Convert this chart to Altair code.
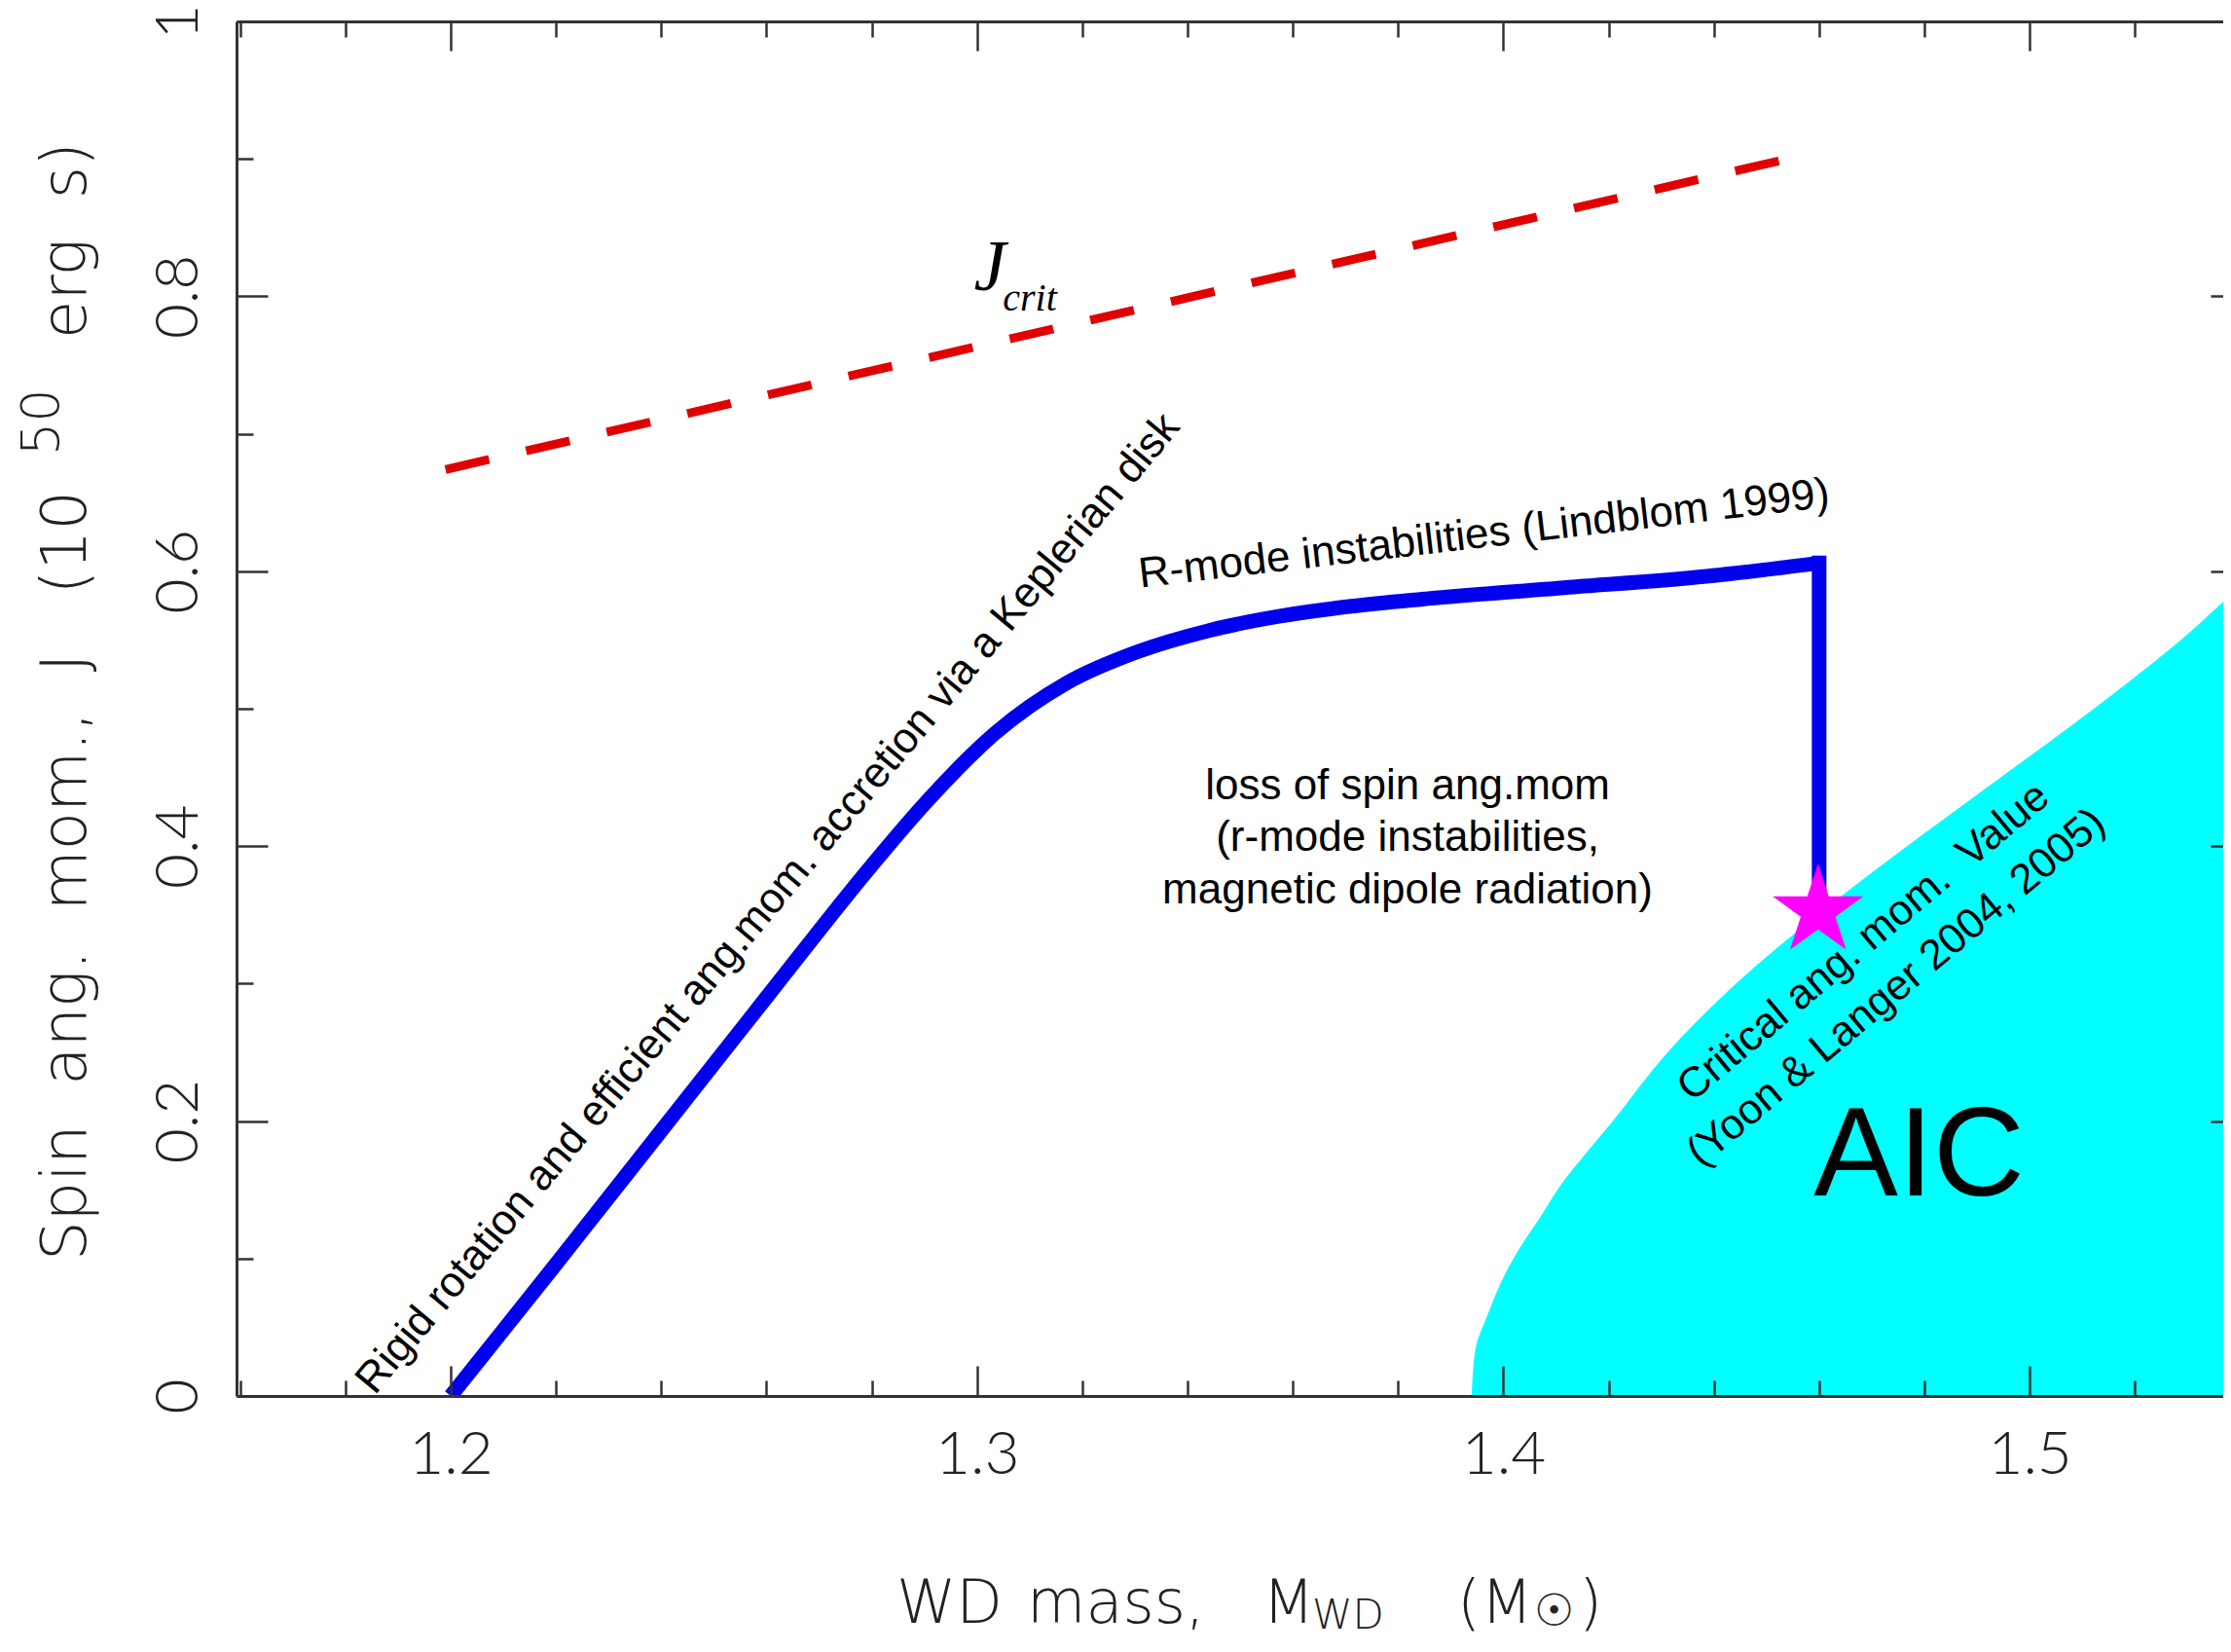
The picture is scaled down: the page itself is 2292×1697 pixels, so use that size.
import altair as alt
import pandas as pd

# ---------------- data ----------------
# blue evolutionary track: WD mass (Msun) and spin angular momentum (1e50 erg s)
track_mass = [1.200, 1.220, 1.240, 1.260, 1.280, 1.2900, 1.3035, 1.3170, 1.3305, 1.3441,
              1.3576, 1.3711, 1.3846, 1.4116, 1.4386, 1.4600]
track_J = [0.000, 0.096, 0.193, 0.290, 0.386, 0.4306, 0.4824, 0.5186, 0.5414, 0.5569,
           0.5673, 0.5745, 0.5797, 0.5880, 0.5963, 0.6060]
# vertical drop of the track down to the star
drop_mass = [1.4600, 1.4600]
drop_J = [0.6060, 0.3500]

# red dashed J_crit line
jcrit_mass = [1.199, 1.454]
jcrit_J = [0.674, 0.900]

# boundary of the cyan AIC region
aic_J = [0.000, 0.036, 0.059, 0.083, 0.107, 0.130, 0.154, 0.178, 0.201,
         0.250, 0.300, 0.350, 0.400, 0.450, 0.500, 0.550, 0.583, 0.620]
aic_mass = [1.3940, 1.3948, 1.3970, 1.3996, 1.4030, 1.4070, 1.4110, 1.4160, 1.4210,
            1.4312, 1.4442, 1.4597, 1.4767, 1.4945, 1.5122, 1.5287, 1.5383, 1.5490]

# magenta star
star_mass = [1.4598]
star_J = [0.3527]

# tick values
x_major = [1.2, 1.3, 1.4, 1.5]
x_minor = [1.16, 1.18, 1.22, 1.24, 1.26, 1.28, 1.32, 1.34, 1.36, 1.38,
           1.42, 1.44, 1.46, 1.48, 1.52]
y_major = [0.0, 0.2, 0.4, 0.6, 0.8, 1.0]
y_minor = [0.1, 0.3, 0.5, 0.7, 0.9]

# ---------------- layout ----------------
W, H = 2041, 1412
X_DOMAIN = [1.1593, 1.53678]
xsc = alt.Scale(domain=X_DOMAIN, nice=False, zero=False)
ysc = alt.Scale(domain=[0, 1], nice=False, zero=False)

TICK = "#333333"
AX_FONT = "Lato"
TITLE_FONT = "DejaVu Sans"
SANS = "Liberation Sans"
SERIF = "Liberation Serif"
NB = "\u00a0"
STAR = ("M0,-1L0.2245,-0.309L0.9511,-0.309L0.3633,0.118L0.5878,0.809L0,0.382"
        "L-0.5878,0.809L-0.3633,0.118L-0.9511,-0.309L-0.2245,-0.309Z")


def ax(orient, values, size, offset=None, labels=False, **kw):
    return alt.Axis(orient=orient, values=values, tickSize=size,
                    offset=-size if offset is None else offset,
                    labels=labels, domain=False, grid=False, tickColor=TICK,
                    tickWidth=2.5, zindex=1, title=None, **kw)


def frame(orient):
    return alt.Axis(orient=orient, ticks=False, labels=False, domain=True, grid=False,
                    domainColor=TICK, domainWidth=3, zindex=1, title=None, offset=0)


lab_x = dict(format=".1f", labelFont=AX_FONT, labelFontSize=62, labelFontWeight=300,
             labelColor="#222222", labelPadding=30, labelFlush=False, labelOverlap=False)
lab_y = dict(format="~g", labelFont=AX_FONT, labelFontSize=62, labelFontWeight=300,
             labelColor="#222222", labelPadding=28, labelFlush=False, labelOverlap=False,
             labelAngle=270, labelAlign="center", labelBaseline="bottom")

aic_df = pd.DataFrame({"M": aic_mass, "J": aic_J})
track_df = pd.DataFrame({"M": track_mass, "J": track_J})
drop_df = pd.DataFrame({"M": drop_mass, "J": drop_J})
jcrit_df = pd.DataFrame({"M": jcrit_mass, "J": jcrit_J})
star_df = pd.DataFrame({"M": star_mass, "J": star_J})

area = alt.Chart(aic_df).mark_area(
    orient="horizontal", color="#00ffff", interpolate="catmull-rom", clip=True, opacity=1
).encode(
    y=alt.Y("J:Q", scale=ysc, axis=ax("left", y_major, 32, labels=True, **lab_y)),
    x=alt.X("M:Q", scale=xsc, axis=ax("bottom", x_major, 31, labels=True, **lab_x)),
    x2=alt.datum(1.6),
)

jcrit = alt.Chart(jcrit_df).mark_line(
    color="#e00000", strokeWidth=9, strokeDash=[46, 39], clip=True
).encode(
    x=alt.X("M:Q", scale=xsc, axis=ax("bottom", x_minor, 16)),
    y=alt.Y("J:Q", scale=ysc, axis=ax("left", y_minor, 17)),
)

track = alt.Chart(track_df).mark_line(
    color="#0000ee", strokeWidth=15, interpolate="monotone", strokeJoin="round", clip=True
).encode(
    x=alt.X("M:Q", scale=xsc, axis=ax("top", x_major, 30)),
    y=alt.Y("J:Q", scale=ysc, axis=ax("right", y_major, 32, offset=-13)),
)

drop = alt.Chart(drop_df).mark_line(
    color="#0000ee", strokeWidth=15, strokeCap="square", clip=True
).encode(
    x=alt.X("M:Q", scale=xsc, axis=None),
    y=alt.Y("J:Q", scale=ysc, axis=None),
)

star = alt.Chart(star_df).mark_point(
    shape=STAR, filled=True, color="#ff00ff", size=9600, opacity=1, strokeWidth=0
).encode(
    x=alt.X("M:Q", scale=xsc, axis=ax("top", x_minor, 16)),
    y=alt.Y("J:Q", scale=ysc, axis=None),
)


def data_text(text, m, j, xaxis=None, yaxis=None, **props):
    df = pd.DataFrame({"M": [m], "J": [j], "t": [text]})
    return alt.Chart(df).mark_text(**props).encode(
        x=alt.X("M:Q", scale=xsc, axis=xaxis),
        y=alt.Y("J:Q", scale=ysc, axis=yaxis),
        text="t:N",
    )


def px_text(text, px, py, **props):
    df = pd.DataFrame({"t": [text]})
    return alt.Chart(df).mark_text(**props).encode(
        x=alt.value(px), y=alt.value(py), text="t:N"
    )


ann = dict(font=SANS, color="black", baseline="alphabetic")
texts = [
    data_text("J", 1.2994, 0.8045, xaxis=frame("top"), font=SERIF, fontStyle="italic",
              fontSize=74, align="left", baseline="alphabetic", color="black"),
    data_text("crit", 1.3049, 0.7897, font=SERIF, fontStyle="italic", fontSize=40,
              align="left", baseline="alphabetic", color="black"),
    data_text("Rigid rotation and efficient ang.mom. accretion via a Keplerian disk",
              1.2622, 0.3522, angle=309.8, fontSize=43.8, align="center", **ann),
    data_text("R-mode instabilities (Lindblom 1999)", 1.3966, 0.61756,
              angle=353.3, fontSize=44.0, align="center", **ann),
    data_text("loss of spin ang.mom", 1.3818, 0.43414, fontSize=44, align="center", **ann),
    data_text("(r-mode instabilities,", 1.3818, 0.39660, fontSize=44, align="center", **ann),
    data_text("magnetic dipole radiation)", 1.3818, 0.35871, fontSize=44, align="center", **ann),
    data_text("Critical ang. mom." + NB + NB + "Value", 1.4700, 0.32300, angle=320,
              fontSize=43.5, align="center", **ann),
    data_text("(Yoon & Langer 2004, 2005)", 1.47620, 0.2899, angle=320, fontSize=43.5,
              align="center", **ann),
    data_text("AIC", 1.4790, 0.14589, xaxis=frame("bottom"), yaxis=frame("left"),
              fontSize=130, align="center", **ann),
]

tfont = dict(font=TITLE_FONT, fontWeight=200, color="#222222", baseline="alphabetic")
titles = [
    # x axis title: WD mass, M_WD (M_sun)
    px_text("WD", 678, 1645, fontSize=62, align="left", **tfont),
    px_text("mass,", 812, 1645, fontSize=62, align="left", **tfont),
    px_text("M", 1054, 1645, fontSize=62, align="left", **tfont),
    px_text("WD", 1105, 1651, fontSize=42, align="left", **tfont),
    px_text("(M", 1254, 1645, fontSize=62, align="left", **tfont),
    px_text("\u2609", 1353, 1648, fontSize=46, align="center", font="DejaVu Sans",
            fontWeight=200, color="#222222", baseline="alphabetic"),
    px_text(")", 1379, 1645, fontSize=62, align="left", **tfont),
    # y axis title: Spin ang. mom., J (10^50 erg s)
    px_text("Spin" + NB * 2 + "ang." + NB * 2 + "mom.," + NB * 2 + "J" + NB * 3 + "(10",
            -155, 1273, fontSize=64, angle=270, align="left", **tfont),
    px_text("50", -183, 446, fontSize=54, angle=270, align="left", **tfont),
    px_text("erg" + NB * 2 + "s)", -155, 124, fontSize=64, angle=270, align="right", **tfont),
]

chart = alt.layer(area, jcrit, track, drop, star, *texts, *titles).resolve_axis(
    x="independent", y="independent"
).properties(
    width=W, height=H,
    autosize=alt.AutoSizeParams(type="none"),
    padding={"left": 235, "top": 14, "right": 0, "bottom": 248},
    background="white",
).configure_view(strokeWidth=0)

chart.save("out.html", embed_options={"renderer": "svg", "actions": False})
